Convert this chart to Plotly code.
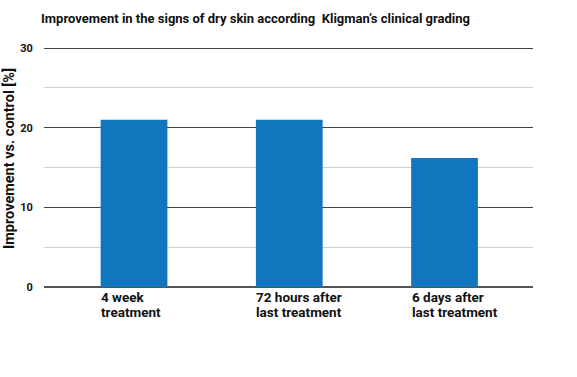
import plotly.graph_objects as go

categories = ["4 week<br>treatment", "72 hours after<br>last treatment", "6 days after<br>last treatment"]
values = [21.0, 21.0, 16.2]
y_ticks = [0, 10, 20, 30]

title_text = "Improvement in the signs of dry skin according  Kligman\u2019s clinical grading"
y_title = "Improvement vs. control [%]"

FONT = "Roboto"
L, R, T, B = 44, 44, 45, 90
W, H = 577, 377
PW, PH = W - L - R, H - T - B

fig = go.Figure()
fig.add_trace(go.Bar(
    x=list(range(len(categories))), y=values,
    marker=dict(color="#1176bd", line=dict(width=0)),
    width=0.43,
    hoverinfo="skip",
))

for i, c in enumerate(categories):
    for j, line in enumerate(c.split("<br>")):
        fig.add_annotation(
            x=i, y=0, xref="x", yref="y", text="<b>" + line + "</b>", showarrow=False,
            xanchor="left", yanchor="middle", align="left", xshift=-35, yshift=-(10 + 15 * j),
            font=dict(family=FONT, size=13.5, color="#111"),
        )

fig.add_annotation(
    x=(9 - L) / PW, y=(H - B - 159) / PH, xref="paper", yref="paper",
    xanchor="center", yanchor="middle",
    text="<b>" + y_title + "</b>", textangle=-90, showarrow=False,
    font=dict(family=FONT, size=14.5, color="#111"),
)
fig.add_annotation(
    x=(255.5 - L) / PW, y=(H - B - 18) / PH, xref="paper", yref="paper",
    xanchor="center", yanchor="middle",
    text="<b>" + title_text + "</b>", showarrow=False,
    font=dict(family=FONT, size=13, color="#111"),
)

fig.update_layout(
    width=W, height=H,
    margin=dict(l=L, r=R, t=T, b=B, autoexpand=False),
    plot_bgcolor="white", paper_bgcolor="white",
    showlegend=False,
    xaxis=dict(range=[-0.58, 2.57], showticklabels=False, showgrid=False, zeroline=False,
               showline=False, ticks="", automargin=False),
    yaxis=dict(range=[0, 30.4], tickvals=y_ticks, ticktext=["<b>%d</b>" % v for v in y_ticks],
               showgrid=True, gridcolor="#444", gridwidth=1.2,
               minor=dict(dtick=5, showgrid=True, gridcolor="#d0d0d0", gridwidth=1),
               zeroline=True, zerolinecolor="#555", zerolinewidth=1.6,
               ticks="outside", ticklen=8, tickcolor="white", automargin=False,
               tickfont=dict(family=FONT, size=11, color="#111")),
)

fig.write_html("out.html", config={"displayModeBar": False},
               post_script="document.body.style.margin='0';")
